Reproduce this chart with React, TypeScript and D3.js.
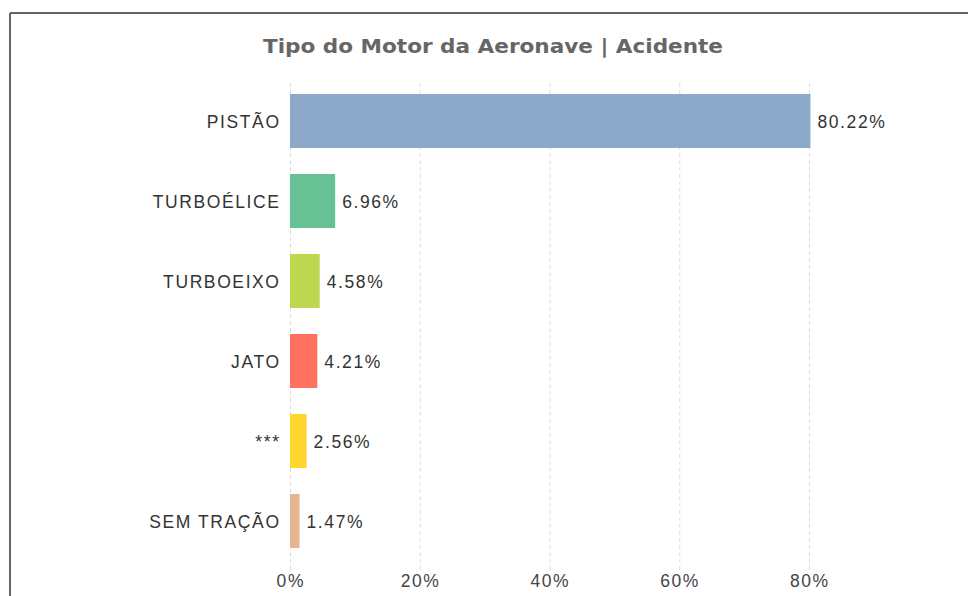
import React from "react";
import * as d3 from "d3";

const categories = ["PISTÃO", "TURBOÉLICE", "TURBOEIXO", "JATO", "***", "SEM TRAÇÃO"];
const values = [80.22, 6.96, 4.58, 4.21, 2.56, 1.47];
const colors = ["#8CA9CA", "#66C295", "#BDD74F", "#FF725F", "#FFD62E", "#E6B48F"];
const ticks = [0, 20, 40, 60, 80];

export default function App() {
  const W = 968, H = 596;
  const x = d3.scaleLinear().domain([0, 80]).range([290, 809]);
  const y = d3.scaleBand().domain(categories).range([81, 561]).paddingInner(0.325).paddingOuter(0.1625);
  const font = "'Liberation Sans', Arial, sans-serif";
  const fs = 17.5;
  const ls = 1.6;
  return (
    <svg width={W} height={H} style={{ position: "absolute", left: 0, top: 0 }}>
      <rect width={W} height={H} fill="#fff" />
      <line x1={10} y1={13} x2={W} y2={13} stroke="#666" strokeWidth={2} />
      <line x1={10} y1={13} x2={10} y2={H} stroke="#666" strokeWidth={2} />
      <text x={263} y={53} textLength={460} lengthAdjust="spacingAndGlyphs" fontFamily="'DejaVu Sans', Verdana, sans-serif" fontWeight="bold" fontSize={19} fill="#666">
        Tipo do Motor da Aeronave | Acidente
      </text>
      {ticks.map((t) => (
        <g key={t}>
          <line x1={x(t) + 0.5} x2={x(t) + 0.5} y1={83} y2={570} stroke="#ddd" strokeDasharray="4,3" />
          <text x={x(t) + ls / 2} y={587} textAnchor="middle" fontFamily={font} fontSize={fs} letterSpacing={ls} fill="#444">
            {t}%
          </text>
        </g>
      ))}
      {categories.map((c, i) => {
        const cy = (y(c) as number) + y.bandwidth() / 2;
        return (
          <g key={c}>
            <rect x={x(0)} y={y(c)} width={x(values[i]) - x(0)} height={y.bandwidth()} fill={colors[i]} />
            <text x={279 + ls} y={cy + 7} textAnchor="end" fontFamily={font} fontSize={fs} letterSpacing={ls} fill="#333">
              {c}
            </text>
            <text x={x(values[i]) + 7} y={cy + 7} fontFamily={font} fontSize={fs} letterSpacing={ls} fill="#333">
              {values[i].toFixed(2)}%
            </text>
          </g>
        );
      })}
    </svg>
  );
}
